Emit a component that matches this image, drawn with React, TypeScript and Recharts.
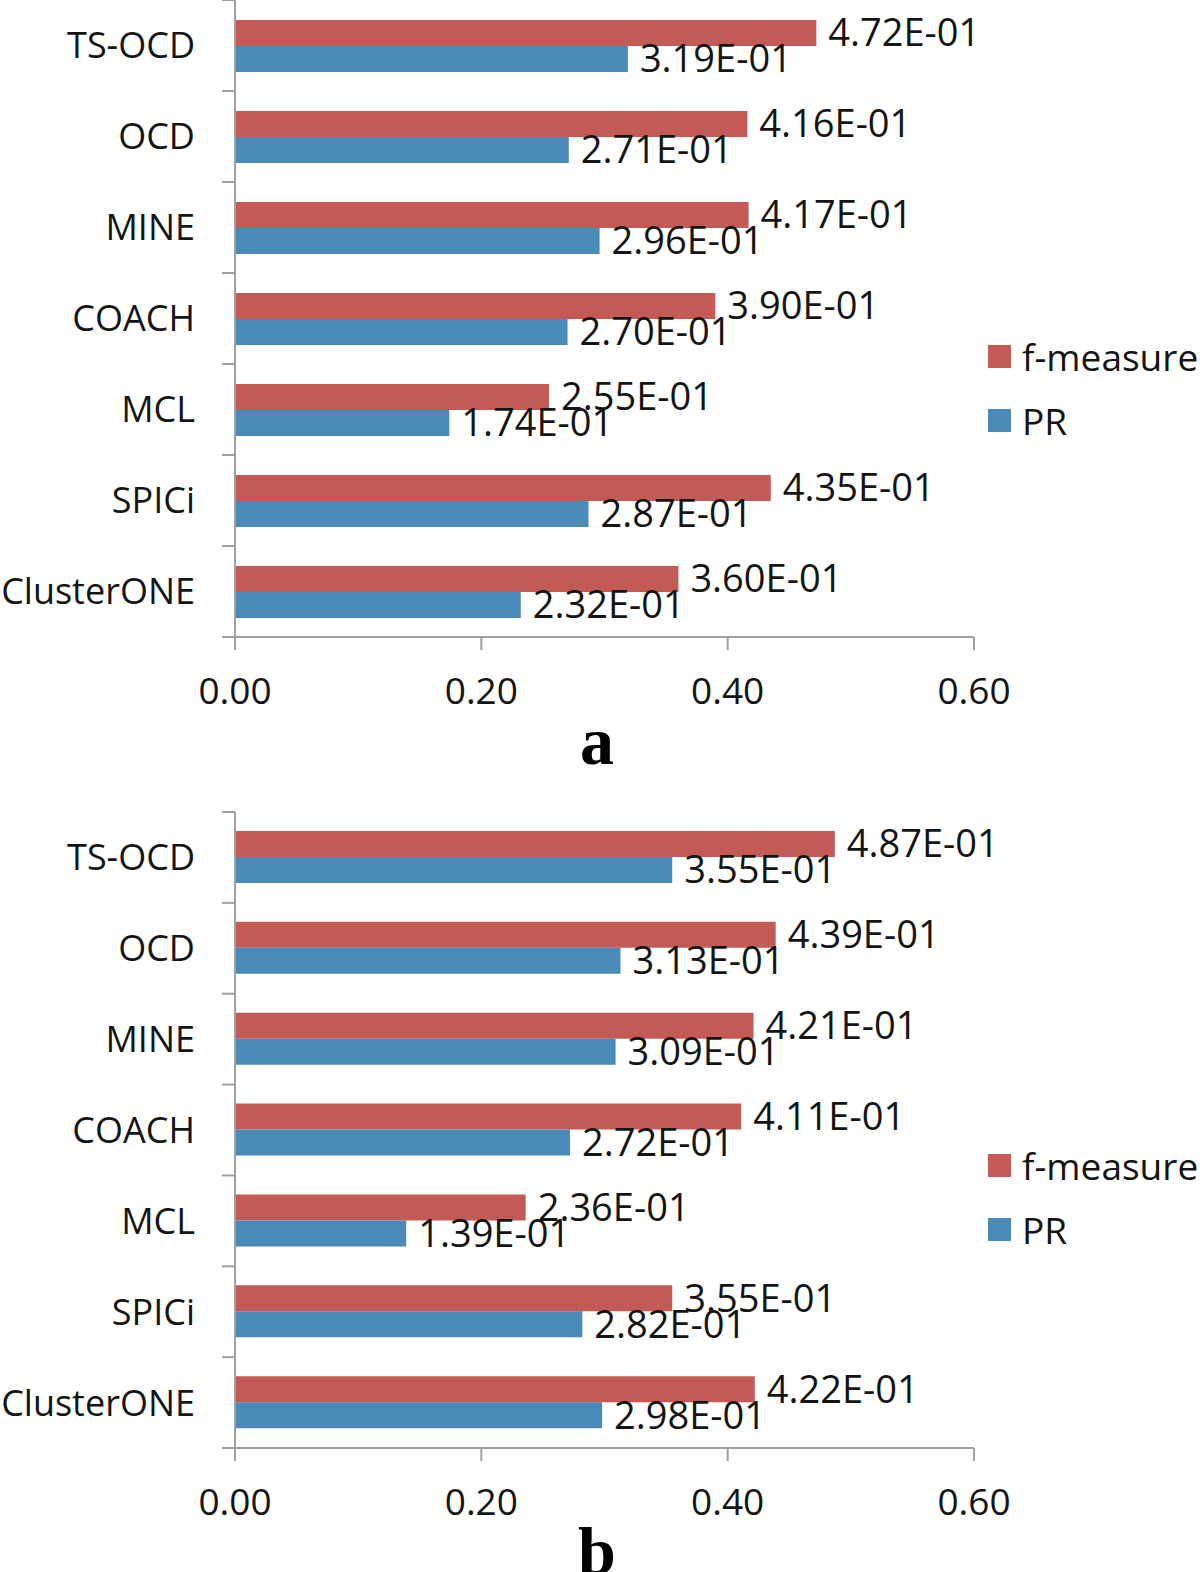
import React from "react";
import { BarChart, Bar, XAxis, YAxis, LabelList, Legend } from "recharts";

const categories = ["TS-OCD", "OCD", "MINE", "COACH", "MCL", "SPICi", "ClusterONE"];
const fMeasureA = [0.472, 0.416, 0.417, 0.39, 0.255, 0.435, 0.36];
const prA = [0.319, 0.271, 0.296, 0.27, 0.174, 0.287, 0.232];
const fMeasureB = [0.487, 0.439, 0.421, 0.411, 0.236, 0.355, 0.422];
const prB = [0.355, 0.313, 0.309, 0.272, 0.139, 0.282, 0.298];
const xTicks = [0, 0.2, 0.4, 0.6];
const seriesNames = ["f-measure", "PR"];

const RED = "#C45A55";
const BLUE = "#4A8AB9";
const AXIS = "#A0A0A0";
const TEXT = "#141414";
const FONT = "'Open Sans', sans-serif";
const FS = 37;
const FS_CAT = 36;
const FS_LABEL = 38;

const dataA = categories.map((c, i) => ({ name: c, f: fMeasureA[i], pr: prA[i] }));
const dataB = categories.map((c, i) => ({ name: c, f: fMeasureB[i], pr: prB[i] }));

const fmtSci = (v: number) => (v * 10).toFixed(2) + "E-01";

function YTick(props: any) {
  const { x, y, payload, index, band } = props;
  return (
    <g>
      <text x={x - 40} y={y} dy="0.36em" textAnchor="end" fontSize={FS_CAT} fontFamily={FONT} fill={TEXT}>
        {payload.value}
      </text>
      <line x1={x - 13} x2={x} y1={y + band / 2} y2={y + band / 2} stroke={AXIS} strokeWidth={2} />
      {index === 0 && (
        <line x1={x - 13} x2={x} y1={y - band / 2} y2={y - band / 2} stroke={AXIS} strokeWidth={2} />
      )}
    </g>
  );
}

function LegendContent(props: any) {
  const items = [...(props.payload || [])].sort(
    (a: any, b: any) => seriesNames.indexOf(a.value) - seriesNames.indexOf(b.value)
  );
  return (
    <div style={{ display: "flex", flexDirection: "column" }}>
      {items.map((p: any) => (
        <div key={p.value} style={{ display: "flex", alignItems: "center", height: 64 }}>
          <div style={{ width: 23, height: 23, background: p.color, marginRight: 11 }} />
          <span style={{ fontFamily: FONT, fontSize: FS, color: TEXT, lineHeight: 1 }}>{p.value}</span>
        </div>
      ))}
    </div>
  );
}

function Panel(props: {
  data: any[];
  height: number;
  top: number;
  xAxisHeight: number;
  legendTop: number;
}) {
  const { data, height, top, xAxisHeight, legendTop } = props;
  const plotH = height - top - xAxisHeight;
  const band = plotH / categories.length;
  return (
    <BarChart
      width={1200}
      height={height}
      data={data}
      layout="vertical"
      margin={{ top, right: 226, bottom: 0, left: 0 }}
      barSize={26}
      barGap={0}
    >
      <XAxis
        type="number"
        domain={[0, 0.6]}
        ticks={xTicks}
        tickFormatter={(v: number) => v.toFixed(2)}
        height={xAxisHeight}
        tickSize={13}
        tickMargin={28}
        axisLine={{ stroke: AXIS, strokeWidth: 2 }}
        tickLine={{ stroke: AXIS, strokeWidth: 2 }}
        tick={{ fontSize: FS, fontFamily: FONT, fill: TEXT }}
        interval={0}
      />
      <YAxis
        type="category"
        dataKey="name"
        width={235}
        tickSize={0}
        tickMargin={0}
        tickLine={false}
        axisLine={{ stroke: AXIS, strokeWidth: 2 }}
        tick={<YTick band={band} />}
        interval={0}
      />
      <Legend
        layout="horizontal"
        verticalAlign="middle"
        align="center"
        content={<LegendContent />}
        wrapperStyle={{ position: "absolute", left: 988, top: legendTop, width: 212 }}
      />
      <Bar dataKey="f" name={seriesNames[0]} fill={RED} isAnimationActive={false}>
        <LabelList
          dataKey="f"
          position="right"
          offset={12}
          formatter={(v: any) => fmtSci(Number(v))}
          style={{ fontSize: FS_LABEL, fontFamily: FONT, fill: TEXT }}
        />
      </Bar>
      <Bar dataKey="pr" name={seriesNames[1]} fill={BLUE} isAnimationActive={false}>
        <LabelList
          dataKey="pr"
          position="right"
          offset={12}
          formatter={(v: any) => fmtSci(Number(v))}
          style={{ fontSize: FS_LABEL, fontFamily: FONT, fill: TEXT }}
        />
      </Bar>
    </BarChart>
  );
}

export default function App() {
  return (
    <div style={{ position: "absolute", left: 0, top: 0, width: 1200, height: 1572, background: "#fff", overflow: "hidden" }}>
      <div style={{ position: "absolute", left: 0, top: 0 }}>
        <Panel data={dataA} height={780} top={0} xAxisHeight={143} legendTop={324} />
      </div>
      <div style={{ position: "absolute", left: 0, top: 780 }}>
        <Panel data={dataB} height={792} top={32} xAxisHeight={124} legendTop={353} />
      </div>
      <svg width={1200} height={1572} style={{ position: "absolute", left: 0, top: 0, pointerEvents: "none" }}>
        <text x={597} y={764} textAnchor="middle" fontSize={68} fontWeight="bold" fontFamily="'Liberation Serif', serif" fill="#000">
          a
        </text>
        <text x={597} y={1574} textAnchor="middle" fontSize={68} fontWeight="bold" fontFamily="'Liberation Serif', serif" fill="#000">
          b
        </text>
      </svg>
    </div>
  );
}
